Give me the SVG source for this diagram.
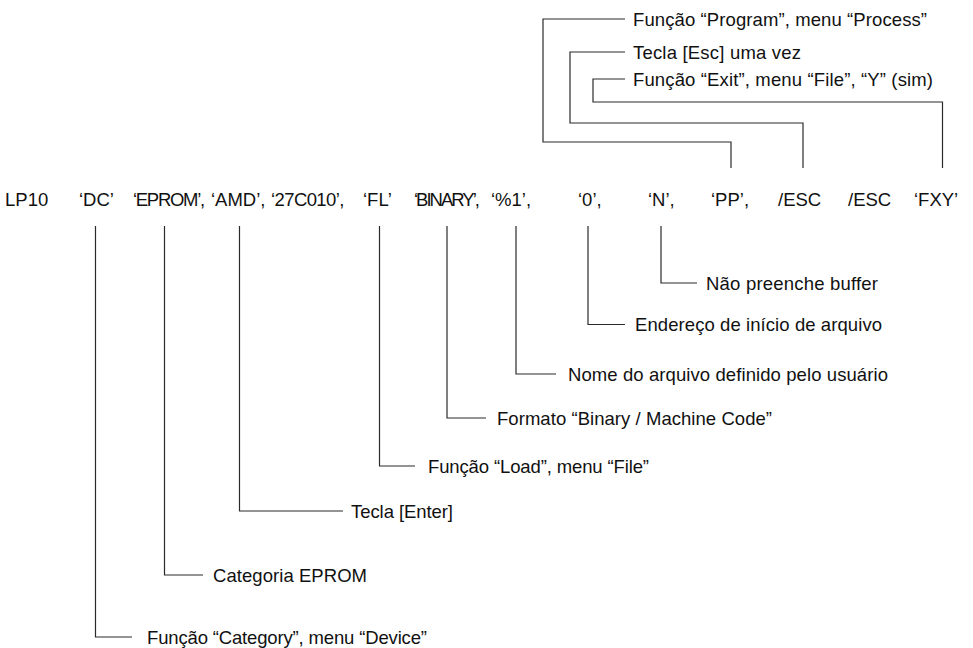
<svg xmlns="http://www.w3.org/2000/svg" width="973" height="648" viewBox="0 0 973 648">
  <style>
    .tok { font-family: "Liberation Sans", Arial, Helvetica, sans-serif; font-size: 18.5px; fill: #111; }
    .lbl { font-family: "Liberation Sans", Arial, Helvetica, sans-serif; font-size: 18.5px; fill: #111; }
    .wire { fill: none; stroke: #2a2a2a; stroke-width: 1.2; }
  </style>
  <rect width="973" height="648" fill="#fff"/>

  <!-- command line tokens -->
  <g id="cmd">
    <g id="t-lp10"><text class="tok" x="5" y="206">LP10</text></g>
    <g id="t-dc"><text class="tok" x="79" y="206">‘DC’</text></g>
    <g id="t-eprom"><text class="tok" x="133" y="206" letter-spacing="-1.3">‘EPROM’,</text></g>
    <g id="t-amd"><text class="tok" x="211" y="206">‘AMD’,</text></g>
    <g id="t-27c010"><text class="tok" x="271" y="206" letter-spacing="-0.6">‘27C010’,</text></g>
    <g id="t-fl"><text class="tok" x="363" y="206">‘FL’</text></g>
    <g id="t-binary"><text class="tok" x="414" y="206" letter-spacing="-2">‘BINARY’,</text></g>
    <g id="t-pct1"><text class="tok" x="491" y="206">‘%1’,</text></g>
    <g id="t-zero"><text class="tok" x="578" y="206">‘0’,</text></g>
    <g id="t-n"><text class="tok" x="648" y="206">‘N’,</text></g>
    <g id="t-pp"><text class="tok" x="711" y="206">‘PP’,</text></g>
    <g id="t-esc1"><text class="tok" x="778" y="206">/ESC</text></g>
    <g id="t-esc2"><text class="tok" x="848" y="206">/ESC</text></g>
    <g id="t-fxy"><text class="tok" x="914" y="206">‘FXY’</text></g>
  </g>

  <!-- leader lines -->
  <g id="connectors">
    <polyline class="wire" points="731,168 731,142 543,142 543,19 625,19"/>
    <polyline class="wire" points="803,168 803,123 570,123 570,52 625,52"/>
    <polyline class="wire" points="942.5,168 942.5,102 593,102 593,79 625,79"/>

    <polyline class="wire" points="95.5,226 95.5,637 132,637"/>
    <polyline class="wire" points="164.5,226 164.5,575 203,575"/>
    <polyline class="wire" points="239.5,226 239.5,511 343,511"/>
    <polyline class="wire" points="379.5,226 379.5,466 415,466"/>
    <polyline class="wire" points="447,226 447,418 486,418"/>
    <polyline class="wire" points="516,226 516,374 556,374"/>
    <polyline class="wire" points="588,226 588,324.5 625,324.5"/>
    <polyline class="wire" points="661,226 661,283 697,283"/>
  </g>

  <!-- annotations -->
  <g id="l-program"><text class="lbl" x="633" y="25.5" textLength="294">Função “Program”, menu “Process”</text></g>
  <g id="l-esc"><text class="lbl" x="633" y="58.5" textLength="168">Tecla [Esc] uma vez</text></g>
  <g id="l-exit"><text class="lbl" x="633" y="85.5" textLength="300">Função “Exit”, menu “File”, “Y” (sim)</text></g>

  <g id="l-buffer"><text class="lbl" x="706" y="289.5" textLength="172">Não preenche buffer</text></g>
  <g id="l-addr"><text class="lbl" x="635" y="331" textLength="247">Endereço de início de arquivo</text></g>
  <g id="l-name"><text class="lbl" x="568" y="380.5" textLength="320">Nome do arquivo definido pelo usuário</text></g>
  <g id="l-format"><text class="lbl" x="497" y="424.5" textLength="275">Formato “Binary / Machine Code”</text></g>
  <g id="l-load"><text class="lbl" x="428" y="472.5" textLength="221">Função “Load”, menu “File”</text></g>
  <g id="l-enter"><text class="lbl" x="351" y="517.5" textLength="102">Tecla [Enter]</text></g>
  <g id="l-cat"><text class="lbl" x="213" y="581.5" textLength="154">Categoria EPROM</text></g>
  <g id="l-device"><text class="lbl" x="147" y="643.5" textLength="280">Função “Category”, menu “Device”</text></g>
</svg>
